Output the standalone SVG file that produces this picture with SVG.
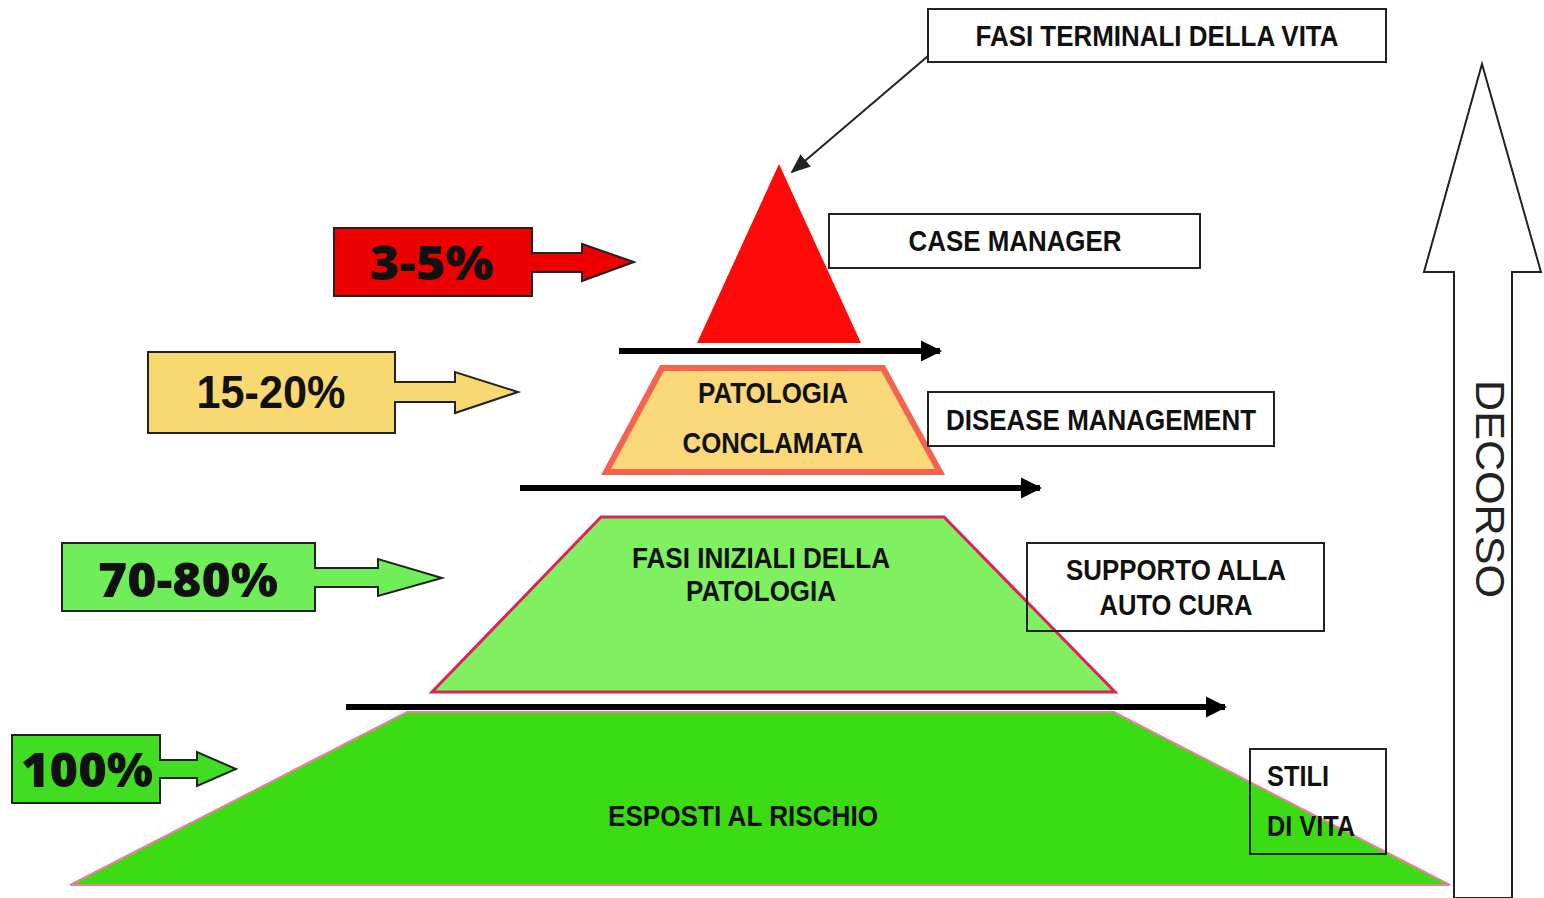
<svg xmlns="http://www.w3.org/2000/svg" width="1544" height="898" viewBox="0 0 1544 898">
<defs>
<style>
.lbl{font-family:"Liberation Sans",Arial,sans-serif;font-weight:bold;font-size:30px;fill:#111}
.pct{font-family:"Open Sans","Liberation Sans",sans-serif;font-weight:800;font-size:48px;fill:#111}
.box{fill:#fff;stroke:#222;stroke-width:2}
.pbox{stroke:#222;stroke-width:2}
.flow{stroke:#000;stroke-width:6;fill:none}
</style>
<marker id="bigHead" viewBox="0 0 10 10" refX="9" refY="5" markerWidth="3.6" markerHeight="3.6" orient="auto" markerUnits="strokeWidth"><path d="M0,0 L10,5 L0,10 z" fill="#000"/></marker>
<marker id="thinHead" viewBox="0 0 10 10" refX="9" refY="5" markerWidth="10" markerHeight="10" orient="auto" markerUnits="strokeWidth"><path d="M0,1 L10,5 L0,9 z" fill="#222"/></marker>
</defs>
<rect width="1544" height="898" fill="#fff"/>

<g id="decorso">
<polygon points="1454,898 1454,272 1424,272 1482,64 1541,272 1512,272 1512,898" fill="#fff" stroke="#222" stroke-width="2"/>
<text transform="translate(1490,489) rotate(90)" x="0" y="14" text-anchor="middle" font-family="Liberation Sans, Arial, sans-serif" font-size="40" fill="#222" textLength="218" lengthAdjust="spacingAndGlyphs">DECORSO</text>
</g>

<g id="level-base">
<polygon points="70,885 407,712 1114,712 1450,885" fill="#3cdc14" stroke="#f07aa0" stroke-width="2"/>
<text class="lbl" x="743" y="826" text-anchor="middle" textLength="270" lengthAdjust="spacingAndGlyphs">ESPOSTI AL RISCHIO</text>
</g>

<g id="level-early">
<polygon points="601,517 944,517 1115,692 432,692" fill="#80f060" stroke="#e0205a" stroke-width="3"/>
<text class="lbl" x="761" y="568" text-anchor="middle" textLength="258" lengthAdjust="spacingAndGlyphs">FASI INIZIALI DELLA</text>
<text class="lbl" x="761" y="601" text-anchor="middle" textLength="150" lengthAdjust="spacingAndGlyphs">PATOLOGIA</text>
</g>

<g id="level-disease">
<polygon points="662,368 883,368 940,472 606,472" fill="#f8d878" stroke="#f46250" stroke-width="6" stroke-linejoin="miter"/>
<text class="lbl" x="773" y="403" text-anchor="middle" textLength="150" lengthAdjust="spacingAndGlyphs">PATOLOGIA</text>
<text class="lbl" x="773" y="453" text-anchor="middle" textLength="181" lengthAdjust="spacingAndGlyphs">CONCLAMATA</text>
</g>

<g id="level-top">
<polygon points="779,164 861,343 697,343" fill="#ff0a0a"/>
</g>

<g id="connectors">
<line class="flow" x1="619" y1="351" x2="940" y2="351" marker-end="url(#bigHead)"/>
<line class="flow" x1="520" y1="488" x2="1040" y2="488" marker-end="url(#bigHead)"/>
<line class="flow" x1="346" y1="707" x2="1225" y2="707" marker-end="url(#bigHead)"/>
<line x1="928" y1="56" x2="792" y2="172" stroke="#222" stroke-width="2" marker-end="url(#thinHead)"/>
</g>

<g id="pct-3-5">
<polygon class="pbox" points="334,228 532,228 532,253 582,253 582,244 634,262 582,281 582,272 532,272 532,296 334,296" fill="#ee0000"/>
<text class="pct" x="432" y="280" text-anchor="middle" textLength="124" lengthAdjust="spacingAndGlyphs">3-5%</text>
</g>

<g id="pct-15-20">
<polygon class="pbox" points="148,352 395,352 395,382 455,382 455,372 518,392 455,413 455,402 395,402 395,433 148,433" fill="#f8d870"/>
<text x="271" y="408" text-anchor="middle" font-family="Liberation Sans, Arial, sans-serif" font-weight="bold" font-size="46" fill="#111" textLength="149" lengthAdjust="spacingAndGlyphs">15-20%</text>
</g>

<g id="pct-70-80">
<polygon class="pbox" points="62,543 315,543 315,568 378,568 378,559 442,578 378,596 378,587 315,587 315,611 62,611" fill="#70ee5a"/>
<text class="pct" x="188" y="597" text-anchor="middle" textLength="180" lengthAdjust="spacingAndGlyphs">70-80%</text>
</g>

<g id="pct-100">
<polygon class="pbox" points="12,735 160,735 160,760 197,760 197,752 236,769 197,786 197,778 160,778 160,803 12,803" fill="#40dd20"/>
<text class="pct" x="87" y="787" text-anchor="middle" textLength="132" lengthAdjust="spacingAndGlyphs">100%</text>
</g>

<g id="box-terminali">
<rect class="box" x="928" y="9" width="458" height="53"/>
<text class="lbl" x="1157" y="46" text-anchor="middle" textLength="363" lengthAdjust="spacingAndGlyphs">FASI TERMINALI DELLA VITA</text>
</g>

<g id="box-case">
<rect class="box" x="829" y="214" width="371" height="54"/>
<text class="lbl" x="1015" y="251" text-anchor="middle" textLength="213" lengthAdjust="spacingAndGlyphs">CASE MANAGER</text>
</g>

<g id="box-disease">
<rect class="box" x="928" y="392" width="346" height="54"/>
<text class="lbl" x="1101" y="430" text-anchor="middle" textLength="310" lengthAdjust="spacingAndGlyphs">DISEASE MANAGEMENT</text>
</g>

<g id="box-supporto">
<rect class="box" x="1027" y="543" width="297" height="88" fill-opacity="0"/>
<text class="lbl" x="1176" y="580" text-anchor="middle" textLength="220" lengthAdjust="spacingAndGlyphs">SUPPORTO ALLA</text>
<text class="lbl" x="1176" y="615" text-anchor="middle" textLength="153" lengthAdjust="spacingAndGlyphs">AUTO CURA</text>
</g>

<g id="box-stili">
<rect x="1250" y="749" width="136" height="105" fill="none" stroke="#222" stroke-width="2"/>
<text class="lbl" x="1267" y="786" textLength="62" lengthAdjust="spacingAndGlyphs">STILI</text>
<text class="lbl" x="1267" y="836" textLength="88" lengthAdjust="spacingAndGlyphs">DI VITA</text>
</g>
</svg>
